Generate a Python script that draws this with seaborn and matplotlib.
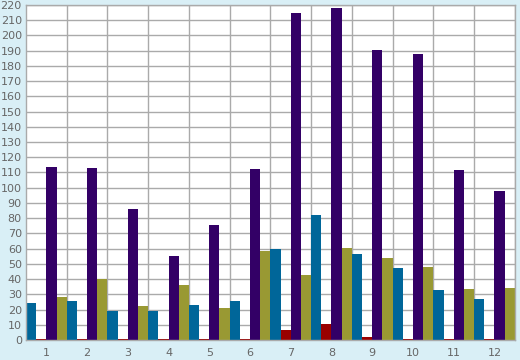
import matplotlib
matplotlib.use("Agg")
import matplotlib.pyplot as plt
import numpy as np
import pandas as pd
import seaborn as sns

groups = [str(i) for i in range(1, 13)]
series = ["A", "B", "C", "D"]
blue_vals = [24.5, 25.8, 19.3, 19.3, 23, 25.6, 59.7, 82, 56.7, 47.3, 32.8, 26.9]
red_vals = [0.5, 0.5, 0.5, 0.5, 0.5, 0.5, 6.6, 10.5, 2, 0.5, 0.8, 0.5]
purple_vals = [113.6, 113, 86, 55.4, 75.5, 112.3, 214.7, 218, 190.4, 188, 111.6, 97.8]
olive_vals = [28.2, 40, 22.3, 36.1, 21, 58.4, 42.7, 60.4, 53.8, 47.9, 33.5, 34.1]
colors = ["#006699", "#990000", "#330066", "#999933"]

rows = []
for s, vals in zip(series, [blue_vals, red_vals, purple_vals, olive_vals]):
    for g, v in zip(groups, vals):
        rows.append({"group": g, "series": s, "value": v})
df = pd.DataFrame(rows)

sns.set_style("white")
bg = "#d9eff6"
grid_c = "#aaaaaa"
txt_c = "#666666"

fig = plt.figure(figsize=(5.2, 3.6), dpi=100, facecolor=bg)
ax = fig.add_axes([0.05, 0.0556, 0.940, 0.9306])
ax.set_facecolor("white")

sns.barplot(data=df, x="group", y="value", hue="series", order=groups,
            hue_order=series, palette=colors, saturation=1, width=1.0,
            gap=0, legend=False, ax=ax)
for p in ax.patches:
    p.set_linewidth(0)

ax.set_xlim(-0.5, 11.5)
ax.set_ylim(0, 220)
ax.set_yticks(np.arange(0, 221, 10))
ax.set_xticks(range(12))
ax.set_xticklabels(groups)
ax.set_xticks(np.arange(0.5, 11.6, 1), minor=True)

ax.grid(False)
ax.set_axisbelow(True)
ax.yaxis.grid(True, color=grid_c, linewidth=1)
ax.xaxis.grid(True, which="minor", color=grid_c, linewidth=1)

ax.tick_params(axis="x", which="major", length=0, pad=6, labelsize=8, labelcolor=txt_c)
ax.tick_params(axis="x", which="minor", length=4, width=1, color=grid_c, direction="out")
ax.tick_params(axis="y", length=2, width=1, color=grid_c, pad=1, labelsize=8, labelcolor=txt_c)

for side in ["left", "bottom", "right", "top"]:
    ax.spines[side].set_visible(True)
    ax.spines[side].set_color(grid_c)
    ax.spines[side].set_linewidth(1)

ax.set_xlabel("")
ax.set_ylabel("")

fig.savefig("out.png", dpi=100, facecolor=bg)
